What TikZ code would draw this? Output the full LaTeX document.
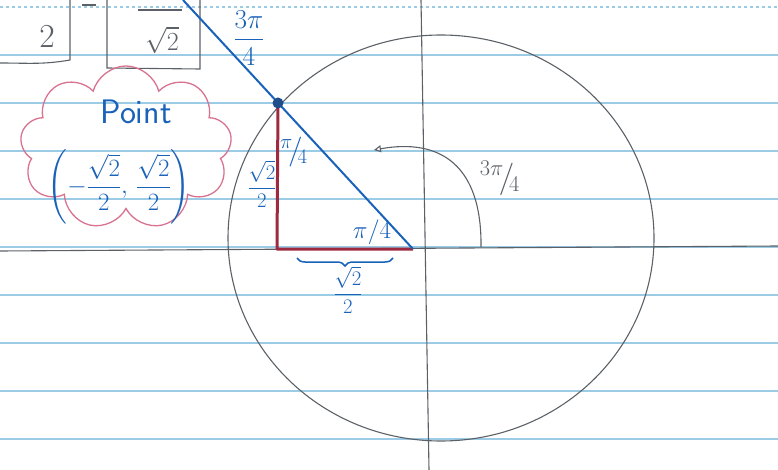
\documentclass[tikz,border=0pt]{standalone}
\usepackage{graphicx}
\usepackage{amsmath}
\usetikzlibrary{arrows.meta,shapes.symbols,decorations.pathreplacing}
\definecolor{ruleblue}{HTML}{9CCBE6}
\definecolor{pencil}{HTML}{5C6167}
\definecolor{inkblue}{HTML}{1A62B9}
\definecolor{wine}{HTML}{9E2A3F}
\definecolor{cloudpink}{HTML}{D8728F}
\definecolor{dotblue}{HTML}{1F4E8C}

\begin{document}
\begin{tikzpicture}[x=1pt,y=-1pt,>=Latex,
  rule/.style={ruleblue,line width=1.2pt},
  pen/.style={pencil,line width=1.1pt},
  ink/.style={inkblue,inner sep=1pt,font=\fontsize{22}{24}\selectfont},
  grey/.style={pencil,inner sep=1pt,font=\fontsize{24}{26}\selectfont},
  tri/.style={wine,line width=3pt,line join=round}]
\useasboundingbox (0,0) rectangle (778,470);
\clip (0,0) rectangle (778,470);
% ruled paper
\draw[rule,dashed] (0,7)--(778,7);
\foreach \y in {55,103,...,440} \draw[rule] (0,\y)--(778,\y);
% boxes at top left
\draw[pen] (70,0)--(70,60) to[out=190,in=0] (0,63);
\draw[pen] (107,0)--(107,68)--(200,69)--(200,0);
\draw[pen] (82,5)--(96,5);
\draw[pen] (138,10)--(182,10);
\node[grey] (two) at (47,37) {\scalebox{1.35}{$2$}};
\node[grey] (roottwo) at (162,40) {\scalebox{1.05}{$\sqrt{2}$}};
% unit circle and axes
\draw[pen] (441,238) ellipse [x radius=213, y radius=203];
\draw[pen] (421,0)--(429,470);
\draw[pen] (0,251)--(778,246);
\coordinate (O) at (413,249);
\coordinate (P) at (278,103);
\coordinate (F) at (277,249);
\coordinate (T) at (183,0);
% reference triangle
\draw[tri] (P)--(F)--(O);
\draw[inkblue,line width=2pt] (O)--(T);
\node[circle,fill=dotblue,inner sep=0pt,minimum size=11pt] (pt) at (P) {};
% angle arrow
\coordinate (a0) at (481,247);
\coordinate (a1) at (374,150);
\draw[pen,-{Triangle[open,length=7pt,width=7pt]}] (a0) .. controls (482,165) and (440,138) .. (a1);
\node[grey] (ang) at (500,178) {\scalebox{1.3}{${}^{3\pi}\!/\!{}_{4}$}};
% labels
\node[ink,font=\fontsize{24}{26}\selectfont] (lt) at (249,38) {\scalebox{1.1}{$\dfrac{3\pi}{4}$}};
\node[ink,font=\fontsize{24}{26}\selectfont] (la) at (294,152) {\scalebox{1.2}{${}^{\pi}\!/\!{}_{4}$}};
\node[ink,font=\fontsize{24}{26}\selectfont] (lb) at (372,232) {$\pi/4$};
\node[ink] (lv) at (262,184) {$\dfrac{\sqrt{2}}{2}$};
\coordinate (b1) at (297,258);
\coordinate (b2) at (393,258);
\draw[inkblue,line width=1.5pt,decorate,decoration={brace,amplitude=8pt,mirror}] (b1)--(b2);
\node[ink] (lh) at (348,290) {$\dfrac{\sqrt{2}}{2}$};
% point cloud
\node[cloud,draw=cloudpink,line width=1.3pt,cloud puffs=9,cloud ignores aspect,
  minimum width=212pt,minimum height=164pt] (cl) at (126,148) {};
\node[inkblue,font=\fontsize{34}{36}\selectfont\sffamily] (pname) at (136,112) {Point};
\node[inkblue,font=\fontsize{23}{25}\selectfont] (pcoord) at (119,187)
  {$\left(-\dfrac{\sqrt{2}}{2},\,\dfrac{\sqrt{2}}{2}\right)$};
\end{tikzpicture}
\end{document}
